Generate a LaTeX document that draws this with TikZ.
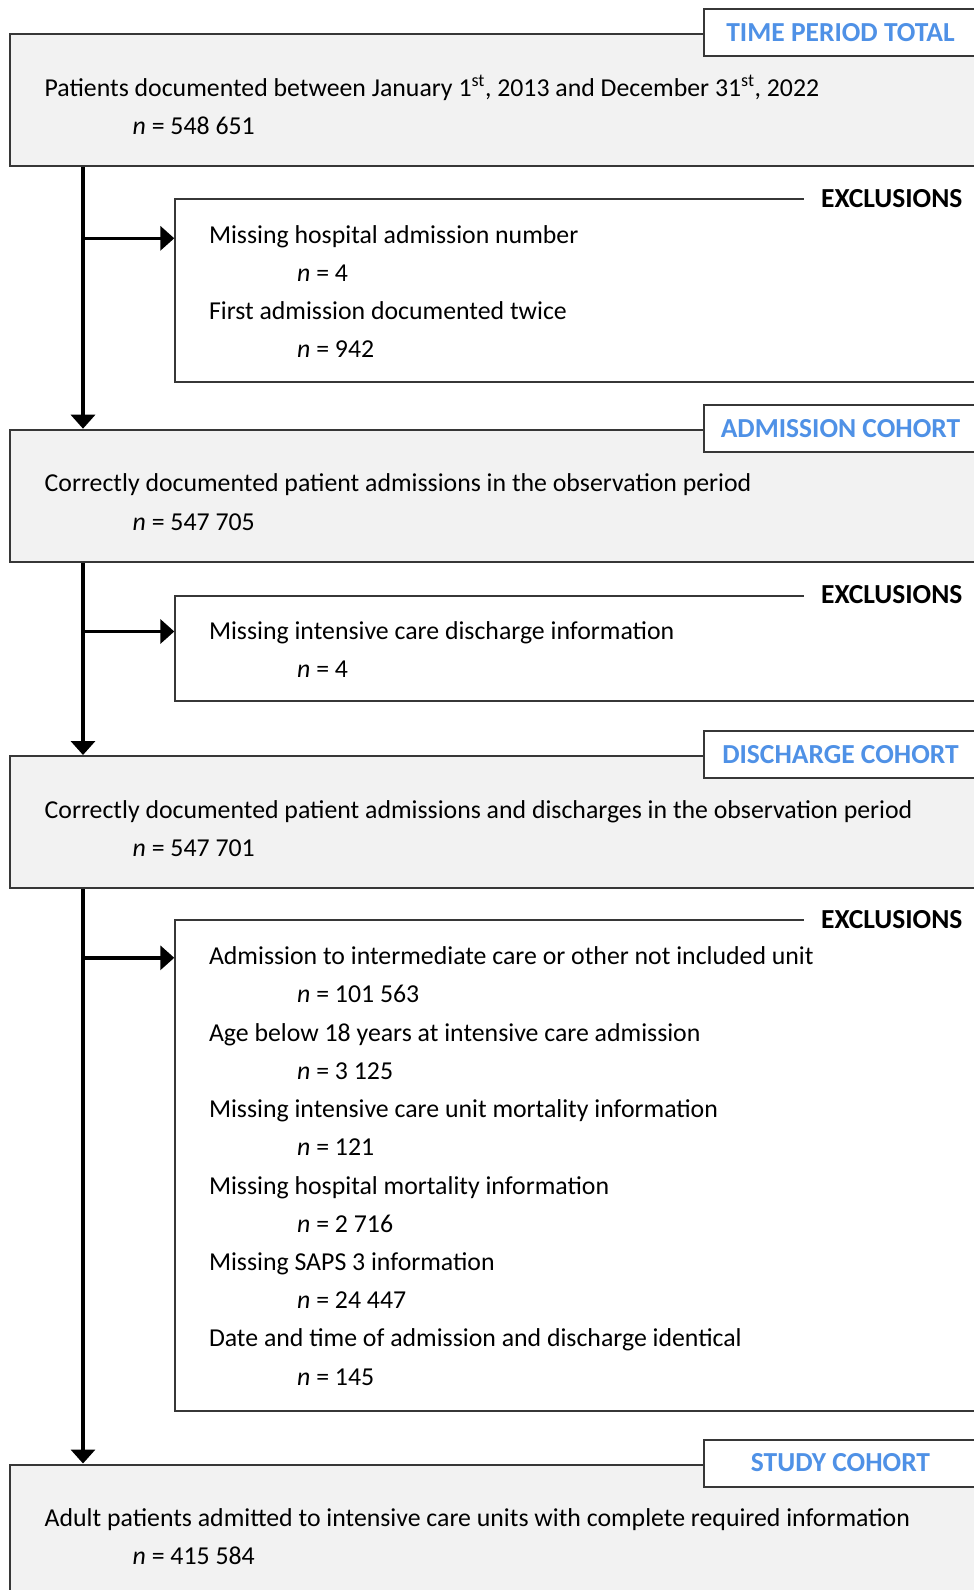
\documentclass[tikz,border=0pt]{standalone}
\usepackage{fontspec}
\setmainfont{Carlito}
\usepackage{xcolor}
\usetikzlibrary{arrows.meta,calc,positioning}
\definecolor{cohortblue}{RGB}{79,145,230}
\definecolor{boxgray}{RGB}{242,242,242}
\definecolor{edgegray}{RGB}{55,55,55}
\newcommand\chartfont{\fontsize{25.8}{31}\selectfont}
\newcommand\tagfont{\fontsize{27.5}{33}\selectfont\bfseries}
\tikzset{>={Triangle[length=14pt,width=24pt]}}
\tikzset{
  cohort/.style={rectangle,draw=edgegray,fill=boxgray,line width=2pt,anchor=north west,
    minimum width=985pt,minimum height=132pt,inner sep=0pt},
  exclbox/.style={rectangle,draw=edgegray,fill=white,line width=2pt,anchor=north west,
    minimum width=820pt,inner sep=0pt},
  tag/.style={rectangle,draw=edgegray,fill=white,line width=2pt,anchor=west,
    minimum width=273pt,minimum height=47pt,inner sep=0pt,font=\tagfont,text=cohortblue},
  extag/.style={fill=white,anchor=west,inner xsep=17pt,inner ysep=4pt,font=\tagfont},
  txt/.style={anchor=base west,inner sep=0pt},
  flow/.style={line width=3.5pt,->}
}

\begin{document}
\begin{tikzpicture}[x=1pt,y=-1pt,font=\chartfont]
  \useasboundingbox (0,0) rectangle (974,1590);
  \clip (0,0) rectangle (974,1590);

  % Boxes
  \node[cohort] (tpt) at (9,33) {};
  \node[cohort] (adm) at (9,428.7) {};
  \node[cohort] (dis) at (9,755) {};
  \node[cohort] (stu) at (9,1463.5) {};
  \node[exclbox,minimum height=182.7pt] (ex1) at (174.3,198.3) {};
  \node[exclbox,minimum height=105.3pt] (ex2) at (174.3,595) {};
  \node[exclbox,minimum height=490.5pt] (ex3) at (174.3,919.3) {};

  % Tags
  \node[tag] (tpt-tag) at (703,32.5) {TIME PERIOD TOTAL};
  \node[tag] (adm-tag) at (703,428.2) {ADMISSION COHORT};
  \node[tag] (dis-tag) at (703,754.5) {DISCHARGE COHORT};
  \node[tag] (stu-tag) at (703,1463) {STUDY COHORT};
  \node[extag] (ex1-tag) at (804,198.3) {EXCLUSIONS};
  \node[extag] (ex2-tag) at (804,595) {EXCLUSIONS};
  \node[extag] (ex3-tag) at (804,919.3) {EXCLUSIONS};

  % Lines
  \coordinate (stem) at (83,0);
  \coordinate (ex1-in) at ($(ex1.north west)+(0,40)$);
  \coordinate (ex2-in) at ($(ex2.north west)+(0,36.5)$);
  \coordinate (ex3-in) at ($(ex3.north west)+(0,38.5)$);
  \draw[flow] (tpt.south -| stem) -- (adm.north -| stem);
  \draw[flow] (adm.south -| stem) -- (dis.north -| stem);
  \draw[flow] (dis.south -| stem) -- (stu.north -| stem);
  \draw[flow] (ex1-in -| stem) -- (ex1-in);
  \draw[flow] (ex2-in -| stem) -- (ex2-in);
  \draw[flow] (ex3-in -| stem) -- (ex3-in);

  % Label
  \node[txt] (tpt-a) at ($(tpt.north west)+(35.5,63)$)
    {Patients documented between January 1\textsuperscript{st}, 2013 and December 31\textsuperscript{st}, 2022};
  \node[txt] (tpt-n) at ($(tpt.north west)+(123.5,101.3)$) {\textit{n} = 548 651};
  \node[txt] (adm-a) at ($(adm.north west)+(35.5,63)$)
    {Correctly documented patient admissions in the observation period};
  \node[txt] (adm-n) at ($(adm.north west)+(123.5,101.3)$) {\textit{n} = 547 705};
  \node[txt] (dis-a) at ($(dis.north west)+(35.5,63)$)
    {Correctly documented patient admissions and discharges in the observation period};
  \node[txt] (dis-n) at ($(dis.north west)+(123.5,101.3)$) {\textit{n} = 547 701};
  \node[txt] (stu-a) at ($(stu.north west)+(35.5,63)$)
    {Adult patients admitted to intensive care units with complete required information};
  \node[txt] (stu-n) at ($(stu.north west)+(123.5,101.3)$) {\textit{n} = 415 584};

  \node[txt] (ex1-a) at ($(ex1.north west)+(34.5,44.7)$) {Missing hospital admission number};
  \node[txt] (ex1-an) at ($(ex1.north west)+(122.7,82.9)$) {\textit{n} = 4};
  \node[txt] (ex1-b) at ($(ex1.north west)+(34.5,121.1)$) {First admission documented twice};
  \node[txt] (ex1-bn) at ($(ex1.north west)+(122.7,159.3)$) {\textit{n} = 942};

  \node[txt] (ex2-a) at ($(ex2.north west)+(34.5,44.2)$) {Missing intensive care discharge information};
  \node[txt] (ex2-an) at ($(ex2.north west)+(122.7,82.8)$) {\textit{n} = 4};

  \node[txt] (ex3-a) at ($(ex3.north west)+(34.5,45.3)$)
    {Admission to intermediate care or other not included unit};
  \node[txt] (ex3-an) at ($(ex3.north west)+(122.7,83.5)$) {\textit{n} = 101 563};
  \node[txt] (ex3-b) at ($(ex3.north west)+(34.5,121.8)$)
    {Age below 18 years at intensive care admission};
  \node[txt] (ex3-bn) at ($(ex3.north west)+(122.7,160)$) {\textit{n} = 3 125};
  \node[txt] (ex3-c) at ($(ex3.north west)+(34.5,198.2)$)
    {Missing intensive care unit mortality information};
  \node[txt] (ex3-cn) at ($(ex3.north west)+(122.7,236.5)$) {\textit{n} = 121};
  \node[txt] (ex3-d) at ($(ex3.north west)+(34.5,274.7)$)
    {Missing hospital mortality information};
  \node[txt] (ex3-dn) at ($(ex3.north west)+(122.7,312.9)$) {\textit{n} = 2 716};
  \node[txt] (ex3-e) at ($(ex3.north west)+(34.5,351.2)$)
    {Missing SAPS 3 information};
  \node[txt] (ex3-en) at ($(ex3.north west)+(122.7,389.4)$) {\textit{n} = 24 447};
  \node[txt] (ex3-f) at ($(ex3.north west)+(34.5,427.6)$)
    {Date and time of admission and discharge identical};
  \node[txt] (ex3-fn) at ($(ex3.north west)+(122.7,465.9)$) {\textit{n} = 145};
\end{tikzpicture}
\end{document}
